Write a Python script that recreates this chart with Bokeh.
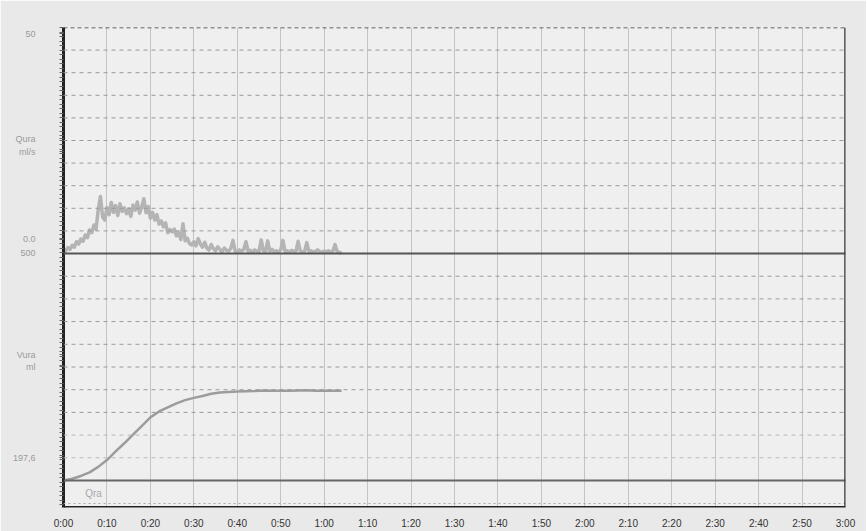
from bokeh.plotting import figure
from bokeh.models import Range1d, FixedTicker, Span, Label, CustomJSTickFormatter
from bokeh.embed import file_html
from bokeh.resources import INLINE

# ---------------- data ----------------
# flow rate (ml/s), sampled every 0.5 s from 0 s
flow_dt = 0.5
flow_values = [
    0.0, 0.6, 1.3, 0.9, 1.8, 1.4, 2.6, 2.1, 3.2, 2.7,
    4.1, 3.5, 5.2, 4.6, 6.3, 5.4, 9.8, 12.6, 8.1, 7.4,
    10.2, 8.6, 11.3, 9.1, 10.6, 8.4, 11.0, 9.3, 10.1, 8.8,
    9.9, 8.2, 10.7, 9.6, 11.4, 8.9, 10.3, 12.1, 9.0, 10.4,
    7.8, 9.1, 7.4, 8.6, 6.5, 7.2, 5.9, 6.8, 4.6, 5.3,
    4.8, 5.4, 3.9, 4.6, 3.1, 6.6, 2.8, 3.4, 2.2, 1.9,
    2.6, 1.7, 3.3, 2.1, 1.4, 2.5, 1.2, 0.8, 2.0, 1.1,
    0.6, 1.5, 0.9, 0.4, 1.2, 0.7, 0.5, 1.1, 2.9, 0.6,
    0.3, 0.8, 0.5, 0.9, 2.6, 0.4, 0.7, 0.3, 0.8, 0.5,
    0.4, 3.0, 0.6, 0.3, 2.8, 0.5, 0.9, 0.4, 0.6, 0.3,
    0.8, 2.9, 0.4, 0.6, 0.3, 0.7, 0.5, 0.4, 2.7, 0.6,
    0.3, 0.5, 2.4, 0.4, 0.6, 0.3, 0.5, 0.8, 0.4, 0.3,
    0.5, 0.4, 0.6, 0.3, 0.5, 2.0, 0.4, 0.3, 0.0,
]
flow_time = [i * flow_dt for i in range(len(flow_values))]

# voided volume (ml)
vol_time = [0, 2, 4, 6, 8, 10, 12, 14, 16, 18, 20, 22, 24, 26, 28, 30, 32, 34,
            36, 38, 40, 44, 46, 48, 52, 56, 58, 60, 64]
vol_values = [0, 4, 10, 18, 30, 45, 64, 82, 101, 120, 139, 152, 161, 170, 177,
              182, 186, 191, 194, 195, 196, 197, 198.5, 197.5, 197.6, 198.6,
              197.6, 197.6, 197.6]

time_ticks = list(range(0, 181, 10))
time_labels = ["%d:%02d" % (t // 60, t % 60) for t in time_ticks]

flow_grid = [5, 10, 15, 20, 25, 30, 35, 40, 45]
vol_grid = [50, 100, 150, 200, 250, 300, 350, 400, 450]

# left margin texts and the pixel rows where they sit
side_rows = [33, 138, 151, 238, 252, 354, 366, 457]
side_texts = ["50", "Qura", "ml/s", "0.0", "500", "Vura", "ml", "197,6"]

# ---------------- figure ----------------
FONT = "Liberation Sans"

p = figure(width=866, height=529, output_backend="svg", toolbar_location=None,
           x_range=Range1d(0, 180), y_range=Range1d(507, 27),
           min_border_left=63, min_border_right=21, min_border_top=27,
           min_border_bottom=22)
p.frame_width = 782
p.frame_height = 480
p.background_fill_color = "#efefef"
p.border_fill_color = "#e9e9e9"
p.outline_line_color = None

# panel ranges (flow: 0 at panel divider, volume: 0 at lower baseline)
px_per_flow = 226 / 50.0
px_per_vol = 227 / 500.0
p.extra_y_ranges = {
    "flow": Range1d(-(507 - 253) / px_per_flow, 50),
    "vol": Range1d(-(507 - 480) / px_per_vol, 500 + (253 - 27) / px_per_vol),
}

# x axis
p.xaxis.ticker = FixedTicker(ticks=time_ticks)
p.xaxis.major_label_overrides = {t: lab for t, lab in zip(time_ticks, time_labels)}
p.xaxis.major_tick_line_color = None
p.xaxis.minor_tick_line_color = None
p.xaxis.axis_line_color = None
p.xaxis.major_label_standoff = 4
p.xaxis.major_label_text_font = FONT
p.xaxis.major_label_text_font_size = "10px"
p.xaxis.major_label_text_color = "#333333"

p.xgrid.ticker = FixedTicker(ticks=time_ticks)
p.xgrid.grid_line_color = "#c4c4c4"
p.xgrid.grid_line_width = 1
p.ygrid.grid_line_color = None

# left axis: thick line with dense outward ticks, plus side texts
dense = [27 + 4.5 * i for i in range(107)]
dense = [d for d in dense if all(abs(d - r) > 0.01 for r in side_rows)]
p.yaxis.ticker = FixedTicker(ticks=dense + side_rows)
p.yaxis.formatter = CustomJSTickFormatter(
    args=dict(pos=side_rows, txt=side_texts),
    code="""
for (let i = 0; i < pos.length; i++) {
  if (Math.abs(tick - pos[i]) < 0.01) { return txt[i]; }
}
return "";
""")
p.yaxis.major_label_text_font = FONT
p.yaxis.major_label_text_font_size = "9px"
p.yaxis.major_label_text_color = "#9a9a9a"
p.yaxis.major_label_standoff = 24
p.yaxis.major_tick_out = 4
p.yaxis.major_tick_in = 0
p.yaxis.major_tick_line_color = "#666666"
p.yaxis.minor_tick_line_color = None
p.yaxis.axis_line_color = "#222222"
p.yaxis.axis_line_width = 3

# horizontal dashed grid in each panel
for g in flow_grid:
    p.add_layout(Span(location=g, dimension="width", y_range_name="flow",
                      line_color="#9a9a9a", line_dash="4 4", line_width=1))
for g in vol_grid:
    c = "#b8b8b8" if g <= 100 else "#9a9a9a"
    p.add_layout(Span(location=g, dimension="width", y_range_name="vol",
                      line_color=c, line_dash="4 4", line_width=1))

# dotted line in bottom strip
p.add_layout(Span(location=503, dimension="width", line_color="#a8a8a8",
                  line_dash="2 3", line_width=1))

# curves
p.line(flow_time, flow_values, y_range_name="flow", line_color="#b4b4b4",
       line_width=3.5, line_join="round")
p.line(vol_time, vol_values, y_range_name="vol", line_color="#9c9c9c",
       line_width=2.5, line_join="round")

# baselines and borders
p.add_layout(Span(location=0, dimension="width", y_range_name="flow",
                  line_color="#555555", line_width=2))
p.add_layout(Span(location=0, dimension="width", y_range_name="vol",
                  line_color="#666666", line_width=2))
p.add_layout(Span(location=27, dimension="width", line_color="#333333",
                  line_dash="4 3", line_width=1.5))
p.add_layout(Span(location=507, dimension="width", line_color="#222222",
                  line_width=3))
p.add_layout(Span(location=180, dimension="height", line_color="#333333",
                  line_width=2.5))

p.add_layout(Label(x=5.0, y=493, text="Qra", text_align="left",
                   text_baseline="middle", text_font=FONT,
                   text_font_size="10px", text_color="#a8a8a8"))

open("out.html", "w").write(file_html(p, INLINE))
